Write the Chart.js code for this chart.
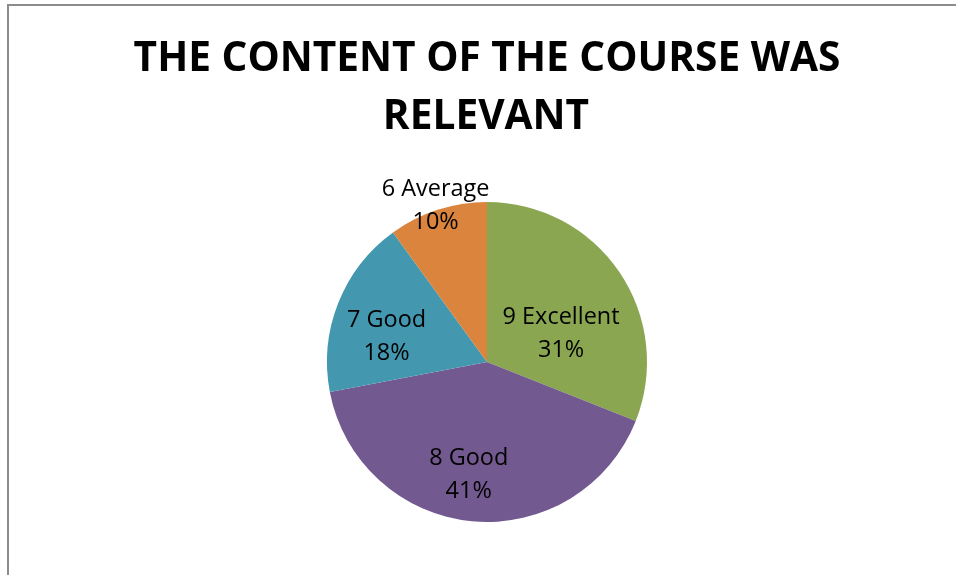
<!DOCTYPE html>
<html>
<head>
<meta charset="utf-8">
<script src="https://cdn.jsdelivr.net/npm/chart.js@4.4.1/dist/chart.umd.min.js"></script>
<style>
  html, body { margin: 0; padding: 0; background: #fff; }
  #wrap { position: relative; width: 956px; height: 575px; overflow: hidden; }
  #frame { position: absolute; left: 7px; top: 4px; width: 1000px; height: 700px; border-left: 2px solid #8c8c8c; border-top: 2px solid #8c8c8c; box-sizing: border-box; }
  canvas { position: absolute; left: 0; top: 0; }
</style>
</head>
<body>
<div id="wrap">
  <div id="frame"></div>
  <canvas id="pie" width="956" height="575"></canvas>
</div>
<script>
// chart data
const titleLines = ["THE CONTENT OF THE COURSE WAS", "RELEVANT"];
const categories = ["9 Excellent", "8 Good", "7 Good", "6 Average"];
const shares = [31, 41, 18, 10];
const sliceColors = ["#8AA650", "#72598F", "#4398B0", "#DB843D"];

// label placement tweaks (angle shift in degrees, radius fraction)
const labelPlace = [
    { shift: 12, r: 0.50 },
    { shift: 4, r: 0.70 },
    { shift: -6.6, r: 0.65 },
    { shift: 0, r: 1.04 }
];

const fontFamily = '"Open Sans", "Noto Sans", sans-serif';

// fit a font size so the text reaches a target width
function fitSize(ctx, text, weight, target) {
    ctx.font = weight + ' 40px ' + fontFamily;
    const w = ctx.measureText(text).width;
    return 40 * target / w;
}

const titlePlugin = {
    id: 'titleText',
    afterDraw(chart) {
        const ctx = chart.ctx;
        const size = fitSize(ctx, titleLines[0], 'bold', 707);
        ctx.save();
        ctx.font = 'bold ' + size.toFixed(2) + 'px ' + fontFamily;
        ctx.fillStyle = '#000';
        ctx.textAlign = 'center';
        ctx.textBaseline = 'alphabetic';
        ctx.fillText(titleLines[0], 487, 71);
        ctx.fillText(titleLines[1], 486, 129);
        ctx.restore();
    }
};

const sliceLabels = {
    id: 'sliceLabels',
    afterDatasetsDraw(chart) {
        const ctx = chart.ctx;
        const meta = chart.getDatasetMeta(0);
        const size = fitSize(ctx, categories[0], 'normal', 117);
        ctx.save();
        ctx.font = size.toFixed(2) + 'px ' + fontFamily;
        ctx.fillStyle = '#000';
        ctx.textAlign = 'center';
        ctx.textBaseline = 'middle';
        meta.data.forEach((arc, i) => {
            const p = arc.getProps(['x', 'y', 'startAngle', 'endAngle', 'outerRadius'], true);
            const mid = (p.startAngle + p.endAngle) / 2 + labelPlace[i].shift * Math.PI / 180;
            const r = p.outerRadius * labelPlace[i].r;
            const cx = p.x + Math.cos(mid) * r;
            const cy = p.y + Math.sin(mid) * r + 2;
            ctx.fillText(categories[i], cx, cy - 16.5);
            ctx.fillText(shares[i] + '%', cx, cy + 16.5);
        });
        ctx.restore();
    }
};

new Chart(document.getElementById('pie'), {
    type: 'pie',
    data: {
        labels: categories,
        datasets: [{
            data: shares,
            backgroundColor: sliceColors,
            borderWidth: 0,
            hoverOffset: 0
        }]
    },
    options: {
        responsive: false,
        animation: false,
        layout: {
            padding: { top: 202, bottom: 53, left: 18, right: 0 }
        },
        plugins: {
            legend: { display: false },
            tooltip: { enabled: false },
            title: { display: false }
        }
    },
    plugins: [sliceLabels, titlePlugin]
});
</script>
</body>
</html>
